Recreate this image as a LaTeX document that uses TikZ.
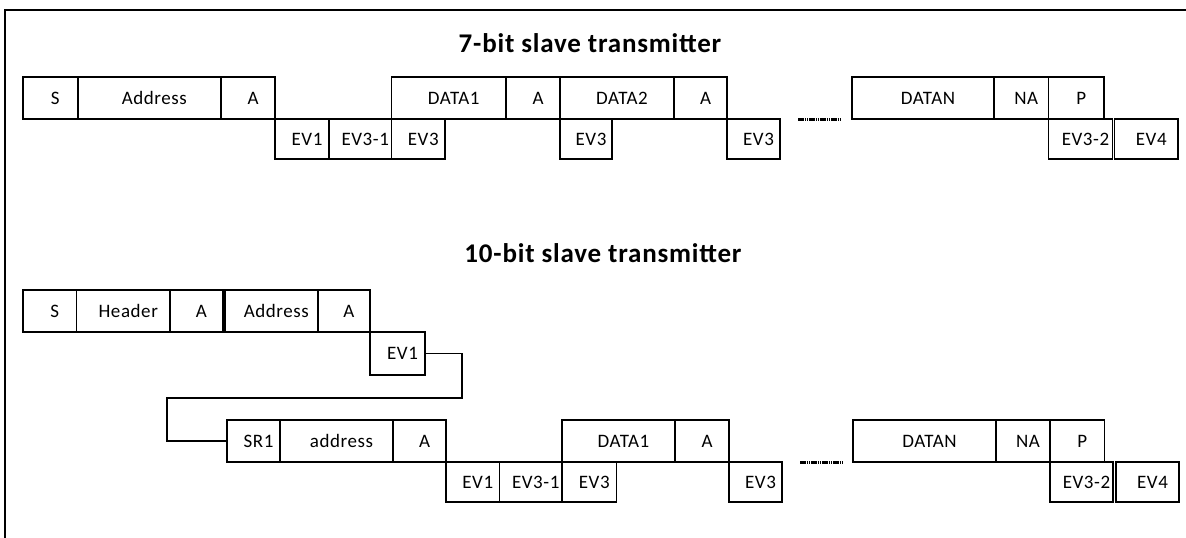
\documentclass[tikz,border=0pt]{standalone}
\usepackage{fontspec}
\setmainfont{Carlito}
\usetikzlibrary{positioning}

\begin{document}
\begin{tikzpicture}[
    x=1pt, y=-1pt,
    node distance=0pt and 0pt,
    field/.style={
        rectangle,
        draw,
        line width=1.6pt,
        outer sep=0pt,
        inner sep=0pt,
        minimum height=42pt,
        font=\fontsize{19}{22}\selectfont\addfontfeature{LetterSpace=3},
        execute at begin node={\hspace*{10pt}}
    },
    event/.style={
        field,
        minimum height=40pt
    },
    title/.style={
        font=\fontsize{27}{31}\selectfont\bfseries\addfontfeature{LetterSpace=3}
    },
    link/.style={
        line width=1.2pt
    },
    gap/.style={
        line width=3pt,
        dash pattern=on 1.6pt off 0.6pt
    }
]
\useasboundingbox (0,0) rectangle (1186,538);

% Frame
\draw[line width=1.6pt] (5,538) -- (5,10) -- (1186,10);

% Titles
\node[title] (t7) at (590,43) {7-bit slave transmitter};
\node[title] (t10) at (603,253) {10-bit slave transmitter};

% 7-bit frame
\node[field, minimum width=54.7pt, anchor=north west] (sa) at (23,77) {S};
\node[field, minimum width=143.3pt, right=of sa] (addra) {Address};
\node[field, minimum width=54pt, right=of addra] (acka) {A};
\node[event, minimum width=54pt, below right=of acka] (ev1a) {EV1};
\node[event, minimum width=62.5pt, right=of ev1a] (ev31a) {EV3-1};
\node[event, minimum width=53.5pt, right=of ev31a] (ev3a) {EV3};
\node[field, minimum width=114.5pt, above right=of ev31a] (data1a) {DATA1};
\node[field, minimum width=54pt, right=of data1a] (ackb) {A};
\node[field, minimum width=114pt, right=of ackb] (data2a) {DATA2};
\node[field, minimum width=53pt, right=of data2a] (ackc) {A};
\node[event, minimum width=52pt, below right=of ackb] (ev3b) {EV3};
\node[event, minimum width=53pt, below right=of ackc] (ev3c) {EV3};
\node[field, minimum width=142pt, right=125pt of ackc] (datana) {DATAN};
\node[field, minimum width=54.5pt, right=of datana] (naa) {NA};
\node[field, minimum width=55.5pt, right=of naa] (pa) {P};
\node[event, minimum width=64pt, below right=of naa] (ev32a) {EV3-2};
\node[event, minimum width=63.5pt, right=2pt of ev32a] (ev4a) {EV4};
\draw[gap] ([xshift=18pt]ev3c.north east) -- ([xshift=-12pt]datana.south west);

% 10-bit frame, header part
\node[field, minimum width=53.5pt, anchor=north west] (sb) at (23,290) {S};
\node[field, minimum width=93.5pt, right=of sb] (hdrb) {Header};
\node[field, minimum width=52.7pt, right=of hdrb] (ackd) {A};
\node[field, minimum width=92.7pt, right=2.3pt of ackd] (addrb) {Address};
\node[field, minimum width=52.3pt, right=of addrb] (acke) {A};
\node[event, minimum width=55pt, minimum height=43pt, below right=of acke] (ev1b) {EV1};

% 10-bit frame, repeated start
\node[field, minimum width=53pt, anchor=north west] (sr1b) at (227,420) {SR1};
\node[field, minimum width=113pt, right=of sr1b] (addrc) {address};
\node[field, minimum width=53pt, right=of addrc] (ackf) {A};
\node[event, minimum width=53.5pt, below right=of ackf] (ev1c) {EV1};
\node[event, minimum width=62.5pt, right=of ev1c] (ev31b) {EV3-1};
\node[event, minimum width=54.5pt, right=of ev31b] (ev3d) {EV3};
\node[field, minimum width=113pt, above right=of ev31b] (data1b) {DATA1};
\node[field, minimum width=54pt, right=of data1b] (ackg) {A};
\node[event, minimum width=53pt, below right=of ackg] (ev3e) {EV3};
\node[field, minimum width=143pt, right=124pt of ackg] (datanb) {DATAN};
\node[field, minimum width=54pt, right=of datanb] (nab) {NA};
\node[field, minimum width=54.5pt, right=of nab] (pb) {P};
\node[event, minimum width=63pt, below right=of nab] (ev32b) {EV3-2};
\node[event, minimum width=63pt, right=3pt of ev32b] (ev4b) {EV4};
\draw[gap] ([xshift=18pt]ev3e.north east) -- ([xshift=-11pt]datanb.south west);

% Link from header to repeated start
\draw[link] (ev1b.east) -- ++(37,0) -- ++(0,44.5) -| ([xshift=-60pt]sr1b.west) -- (sr1b.west);

\end{tikzpicture}
\end{document}
